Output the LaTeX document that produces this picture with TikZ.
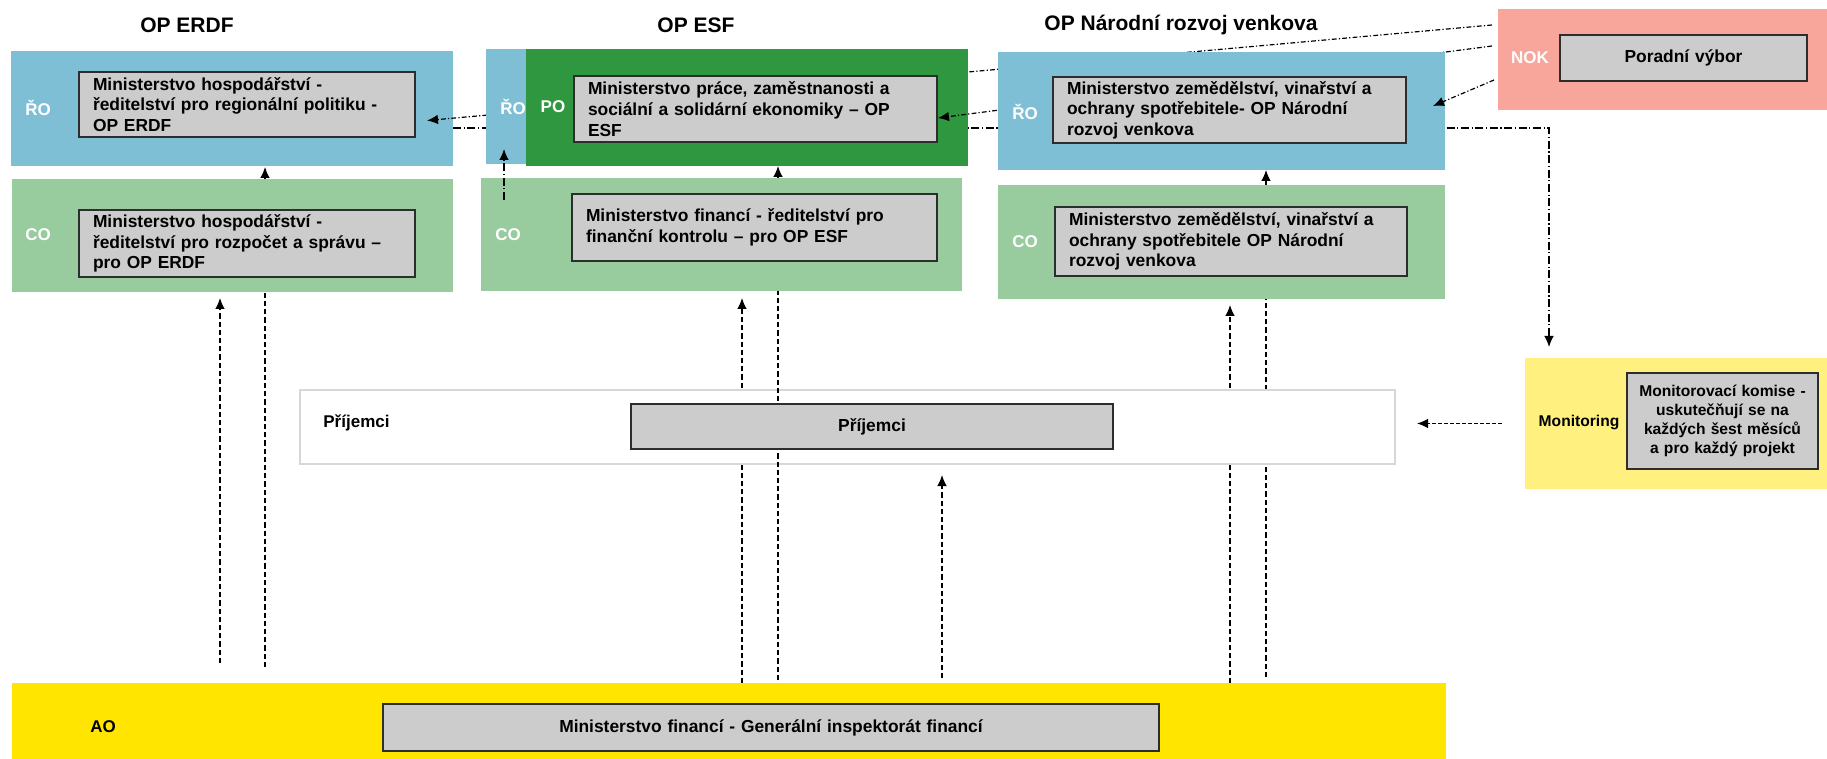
\documentclass[tikz,border=0pt]{standalone}
\usepackage{fontspec}
\setmainfont{Liberation Sans}
\usetikzlibrary{arrows.meta,calc}
\pgfdeclarelayer{l0}\pgfdeclarelayer{l1}\pgfdeclarelayer{l2}\pgfdeclarelayer{l3}
\pgfdeclarelayer{l4}\pgfdeclarelayer{l5}\pgfdeclarelayer{l6}
\pgfsetlayers{l0,l1,l2,l3,l4,l5,l6,main}
\definecolor{blueC}{RGB}{127,191,214}
\definecolor{lgreenC}{RGB}{152,203,158}
\definecolor{dgreenC}{RGB}{46,151,63}
\definecolor{salmonC}{RGB}{248,166,156}
\definecolor{lyellowC}{RGB}{255,240,128}
\definecolor{yellowC}{RGB}{255,229,0}
\definecolor{greyC}{RGB}{204,204,204}
\definecolor{borderC}{RGB}{45,45,45}
\definecolor{wborderC}{RGB}{215,215,215}
\newcommand\myboxfont{\fontsize{8.7}{10.3}\selectfont\bfseries}
\newcommand\mymonfont{\fontsize{7.8}{9.5}\selectfont\bfseries}
\newcommand\mylblfont{\fontsize{8.5}{10}\selectfont\bfseries}
\newcommand\mytitlefont{\fontsize{10.5}{12}\selectfont\bfseries}
\tikzset{
  area/.style={anchor=north west, inner sep=0pt, outer sep=0pt, draw=none},
  greybox/.style={anchor=north west, fill=greyC, draw=borderC, line width=0.8pt,
    inner ysep=0pt, inner xsep=7pt, outer sep=0pt, font=\myboxfont, align=left},
  greyc/.style={greybox, align=center},
  wlbl/.style={font=\mylblfont, text=white, inner sep=0pt},
  blbl/.style={font=\mylblfont, text=black, inner sep=0pt},
  ttl/.style={font=\mytitlefont, inner sep=0pt},
  tip/.style={-{Latex[length=5.5pt,width=4.8pt]}},
  ddot/.style={line width=0.6pt, dash pattern=on 2.4pt off 1.1pt on 0.6pt off 1.1pt},
  ddlong/.style={line width=0.6pt, dash pattern=on 4pt off 1.3pt on 0.6pt off 1.3pt},
  vdash/.style={line width=0.6pt, dash pattern=on 2.6pt off 1.5pt},
  hdash/.style={line width=0.6pt, dash pattern=on 2pt off 1pt}
}
\begin{document}
\begin{tikzpicture}[x=0.5pt,y=-0.5pt]
\useasboundingbox (0,0) rectangle (1827,759);

% titles
\node[ttl] (t1) at (187,25) {OP ERDF};
\node[ttl] (t2) at (696,25) {OP ESF};
\node[ttl] (t3) at (1181,25) {OP Národní rozvoj venkova};

% ---- layered areas
\begin{pgfonlayer}{l1}
\node[area, fill=white, draw=wborderC, line width=0.8pt, minimum width=547.5pt, minimum height=37pt] (prij) at (300,390) {};
\end{pgfonlayer}
\begin{pgfonlayer}{l3}
\node[area, fill=blueC, minimum width=221pt, minimum height=57.5pt] (erdfro) at (11,51) {};
\end{pgfonlayer}
\begin{pgfonlayer}{l5}
\node[area, fill=blueC, minimum width=20pt, minimum height=57.5pt] (esfro) at (486,49) {};
\node[area, fill=dgreenC, minimum width=221pt, minimum height=58.5pt] (esfpo) at (526,49) {};
\end{pgfonlayer}

\node[area, fill=lgreenC, minimum width=220.5pt, minimum height=56.5pt] (erdfco) at (12,179) {};
\node[area, fill=lgreenC, minimum width=240.5pt, minimum height=56.5pt] (esfco) at (481,178) {};
\node[area, fill=blueC, minimum width=223.5pt, minimum height=59pt] (nrvro) at (998,52) {};
\node[area, fill=lgreenC, minimum width=223.5pt, minimum height=57pt] (nrvco) at (998,185) {};
\node[area, fill=salmonC, minimum width=164.5pt, minimum height=50.5pt] (nok) at (1498,9) {};
\node[area, fill=lyellowC, minimum width=151pt, minimum height=65.5pt] (mon) at (1525,358) {};
\node[area, fill=yellowC, minimum width=717pt, minimum height=38pt] (ao) at (12,683) {};

% grey boxes
\node[greybox, minimum width=168pt, minimum height=32.5pt, text width=154pt] (gerdfro) at (79,72)
  {Ministerstvo hospodářství -\\ředitelství pro regionální politiku -\\OP ERDF};
\node[greybox, minimum width=168pt, minimum height=33.5pt, text width=154pt] (gerdfco) at (79,210)
  {Ministerstvo hospodářství -\\ředitelství pro rozpočet a správu –\\pro OP ERDF};
\node[greybox, minimum width=181.5pt, minimum height=33pt, text width=167.5pt] (gesfpo) at (574,76)
  {Ministerstvo práce, zaměstnanosti a\\sociální a solidární ekonomiky – OP\\ESF};
\node[greybox, minimum width=182.5pt, minimum height=33.5pt, text width=168.5pt] (gesfco) at (572,194)
  {Ministerstvo financí - ředitelství pro\\finanční kontrolu – pro OP ESF};
\node[greybox, minimum width=176.5pt, minimum height=33pt, text width=162.5pt] (gnrvro) at (1053,77)
  {Ministerstvo zemědělství, vinařství a\\ochrany spotřebitele- OP Národní\\rozvoj venkova};
\node[greybox, minimum width=176pt, minimum height=34.5pt, text width=162pt] (gnrvco) at (1055,207)
  {Ministerstvo zemědělství, vinařství a\\ochrany spotřebitele OP Národní\\rozvoj venkova};
\node[greyc, minimum width=123.5pt, minimum height=23pt, text width=109.5pt] (gnok) at (1560,35)
  {Poradní výbor};
\node[greyc, font=\mymonfont, inner xsep=4pt, minimum width=95.5pt, minimum height=48pt, text width=87.5pt] (gmon) at (1627,373)
  {Monitorovací komise -\\uskutečňují se na\\každých šest měsíců\\a pro každý projekt};
\node[greyc, minimum width=241pt, minimum height=22.5pt, text width=227pt] (gprij) at (631,404)
  {Příjemci};
\node[greyc, minimum width=388pt, minimum height=23.5pt, text width=374pt] (gao) at (383,704)
  {Ministerstvo financí - Generální inspektorát financí};

% labels
\node[wlbl] (lro1) at (38,108) {ŘO};
\node[wlbl] (lco1) at (38,235) {CO};
\node[wlbl] (lro2) at (513,107) {ŘO};
\node[wlbl] (lpo2) at (553,107) {PO};
\node[wlbl] (lco2) at (508,235) {CO};
\node[wlbl] (lro3) at (1025,112) {ŘO};
\node[wlbl] (lco3) at (1025,242) {CO};
\node[wlbl] (lnok) at (1530,58) {NOK};
\node[blbl, font=\mymonfont] (lmon) at (1579,423) {Monitoring};
\node[blbl, anchor=west] (lprij) at (323,423) {Příjemci};
\node[blbl] (lao) at (103,727) {AO};

% ---- connectors behind boxes
\begin{pgfonlayer}{l0}
\draw[ddlong, tip] ($(erdfro.north east)+(0,77)$) -| ($(mon.north west)+(24,-11)$);
\draw[vdash, tip] ($(ao.north west)+(208,-20)$) -- ($(erdfco.south west)+(208,6)$);
\draw[vdash, tip] ($(ao.north west)+(253,-16)$) -- ($(erdfro.south west)+(254,1)$);
\draw[vdash, tip] ($(ao.north west)+(730,0)$) -- ($(esfco.south west)+(261,7)$);
\draw[vdash, tip] ($(ao.north west)+(1218,0)$) -- ($(nrvco.south west)+(232,6)$);
\draw[vdash, tip] ($(ao.north west)+(1254,-6)$) -- ($(nrvro.south west)+(268,0)$);
\end{pgfonlayer}
\begin{pgfonlayer}{l2}
\draw[vdash, tip] ($(ao.north west)+(766,-3)$) -- ($(esfpo.south west)+(252,0)$);
\end{pgfonlayer}
\begin{pgfonlayer}{l4}
\draw[ddot, tip] ($(nok.north west)+(-6,16)$) -- ($(gerdfro.east)+(12,16)$);
\end{pgfonlayer}
\begin{pgfonlayer}{l6}
\draw[ddot, tip] ($(nok.north west)+(-6,37)$) -- ($(gesfpo.east)+(1,9)$);
\end{pgfonlayer}

% ---- connectors on top
\draw[ddot, tip] ($(nok.north west)+(-4,71)$) -- ($(nrvro.north east)+(-12,54)$);
\draw[ddlong, tip] ($(esfco.north west)+(23,22)$) -- ($(esfro.south west)+(18,-15)$);
\draw[vdash, tip] ($(ao.north west)+(930,-5)$) -- ($(prij.south west)+(642,11)$);
\draw[hdash, tip] ($(mon.west)+(-23,0)$) -- ($(prij.east)+(22,-3.5)$);
\end{tikzpicture}
\end{document}
